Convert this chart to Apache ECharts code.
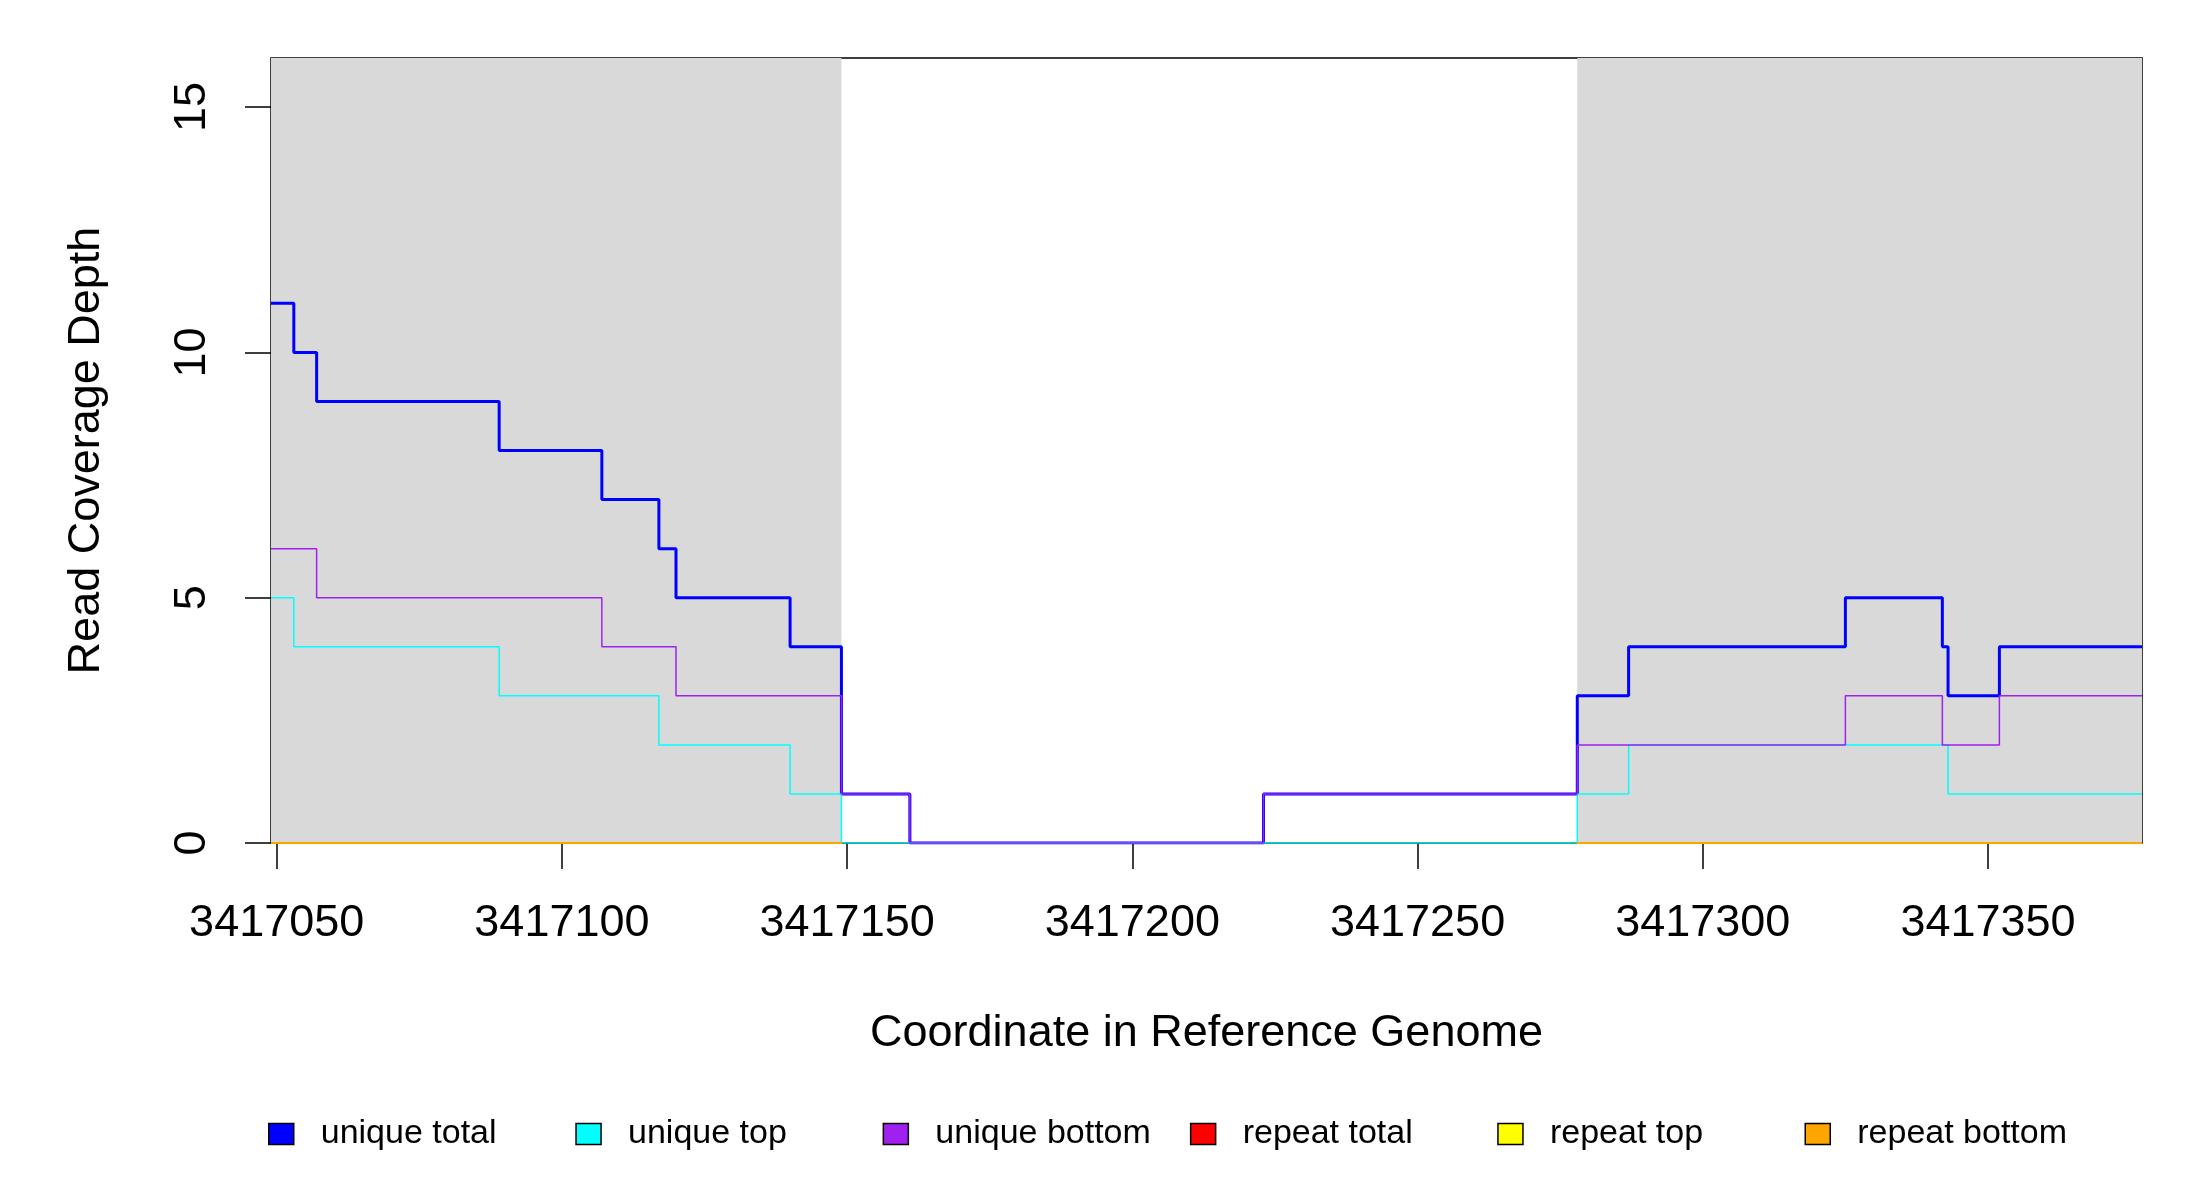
<!DOCTYPE html>
<html lang="en">
<head>
<meta charset="UTF-8">
<title>Read coverage</title>
<style>
  html, body { margin: 0; padding: 0; background: #fff; }
  #chart { width: 2200px; height: 1200px; }
</style>
</head>
<body>
<div id="chart"></div>
<script src="https://cdn.jsdelivr.net/npm/echarts@6/dist/echarts.min.js"></script>
<script>
// breakpoints: each value holds from this position up to the next one
var positions = [3417049, 3417053, 3417057, 3417089, 3417107, 3417117, 3417120, 3417140, 3417149,
                 3417161, 3417223, 3417278, 3417287, 3417325, 3417342, 3417343, 3417352, 3417377];
var uniqueTotal  = [11, 10, 9, 8, 7, 6, 5, 4, 1, 0, 1, 3, 4, 5, 4, 3, 4, 4];
var uniqueTop    = [ 5,  4, 4, 3, 3, 2, 2, 1, 0, 0, 0, 1, 2, 2, 2, 1, 1, 1];
var uniqueBottom = [ 6,  6, 5, 5, 4, 4, 3, 3, 1, 0, 1, 2, 2, 3, 2, 2, 3, 3];

// shaded regions (grey) and repeat coverage inside them
var shadeStart = [3417049, 3417278];
var shadeEnd   = [3417149, 3417377];
var repeatTotal  = [0, 0];
var repeatTop    = [0, 0];
var repeatBottom = [0, 0];

var xTicks = [3417050, 3417100, 3417150, 3417200, 3417250, 3417300, 3417350];
var yTicks = [0, 5, 10, 15];

var legendNames  = ['unique total', 'unique top', 'unique bottom', 'repeat total', 'repeat top', 'repeat bottom'];
var legendColors = ['#0000FF', '#00FFFF', '#A020F0', '#FF0000', '#FFFF00', '#FFA500'];

var FONT = 'Liberation Sans, Arial, Helvetica, sans-serif';

function stepData(vals) {
  return positions.map(function (x, i) { return [x, vals[i]]; });
}
function regionData(vals) {
  var out = [];
  for (var i = 0; i < shadeStart.length; i++) {
    if (i > 0) out.push([shadeStart[i], null]);
    out.push([shadeStart[i], vals[i]]);
    out.push([shadeEnd[i], vals[i]]);
  }
  return out;
}

var chart = echarts.init(document.getElementById('chart'));

var series = [{
  name: 'shade',
  type: 'line',
  data: [],
  silent: true,
  markArea: {
    silent: true,
    itemStyle: { color: '#D9D9D9' },
    data: shadeStart.map(function (s, i) { return [{ xAxis: s }, { xAxis: shadeEnd[i] }]; })
  }
}];

var lineVals = [uniqueTotal, uniqueTop, uniqueBottom];
lineVals.forEach(function (v, i) {
  series.push({
    name: legendNames[i],
    type: 'line',
    step: 'end',
    symbol: 'none',
    data: stepData(v),
    lineStyle: { color: legendColors[i], width: i === 0 ? 3 : 1.5 },
    itemStyle: { color: legendColors[i] },
    z: 3
  });
});
[repeatTotal, repeatTop, repeatBottom].forEach(function (v, k) {
  var i = k + 3;
  series.push({
    name: legendNames[i],
    type: 'line',
    symbol: 'none',
    connectNulls: false,
    data: regionData(v),
    lineStyle: { color: legendColors[i], width: 2 },
    itemStyle: { color: legendColors[i] },
    z: 3
  });
});

// one legend per entry so they sit at even spacing like the original
var legends = legendNames.map(function (n, i) {
  return {
    data: [{ name: n, icon: 'rect' }],
    left: 268 + i * 307.3,
    top: 1117,
    padding: 0,
    itemWidth: 25,
    itemHeight: 21,
    itemStyle: { borderColor: '#000', borderWidth: 1.5 },
    formatter: function (name) { return '{p|' + name + '}'; },
    textStyle: {
      fontFamily: FONT, fontSize: 34, color: '#000',
      rich: { p: { fontFamily: FONT, fontSize: 34, color: '#000', padding: [0, 0, 0, 22] } }
    },
    selectedMode: false
  };
});

var option = {
  animation: false,
  backgroundColor: '#fff',
  grid: {
    left: 271, right: 58, top: 58, bottom: 357,
    show: true, borderColor: '#000', borderWidth: 1.5, backgroundColor: 'transparent'
  },
  legend: legends,
  xAxis: {
    type: 'value',
    min: 3417049,
    max: 3417377,
    name: 'Coordinate in Reference Genome',
    nameLocation: 'middle',
    nameGap: 168,
    nameTextStyle: { fontFamily: FONT, fontSize: 45, color: '#000' },
    axisLine: { show: false },
    axisTick: { show: true, length: 26, customValues: xTicks, lineStyle: { color: '#000', width: 1.5 } },
    axisLabel: {
      customValues: xTicks, margin: 58, fontFamily: FONT, fontSize: 45, color: '#000', lineHeight: 45,
      formatter: function (v) { return String(v); }
    },
    splitLine: { show: false }
  },
  yAxis: {
    type: 'value',
    min: 0,
    max: 16,
    name: 'Read Coverage Depth',
    nameLocation: 'middle',
    nameGap: 162,
    nameTextStyle: { fontFamily: FONT, fontSize: 45, color: '#000' },
    axisLine: { show: false },
    axisTick: { show: true, length: 26, customValues: yTicks, lineStyle: { color: '#000', width: 1.5 } },
    axisLabel: { customValues: yTicks, rotate: 90, margin: 56, fontFamily: FONT, fontSize: 45, color: '#000', lineHeight: 45 },
    splitLine: { show: false }
  },
  series: series
};

chart.setOption(option);
</script>
</body>
</html>
